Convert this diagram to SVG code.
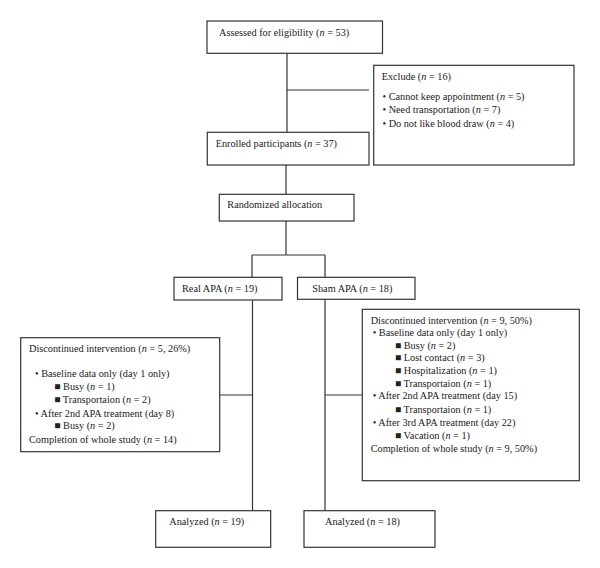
<svg xmlns="http://www.w3.org/2000/svg" width="600" height="568" viewBox="0 0 600 568">
<style>
.box{fill:#fff;stroke:#333;stroke-width:1.2}
.ln{fill:none;stroke:#333;stroke-width:1.2}
text{font-family:"Liberation Serif","Times New Roman",serif;font-size:10.25px;fill:#222}
.i{font-style:italic}
</style>
<rect width="600" height="568" fill="#fff"/>
<g id="connectors">
<path class="ln" d="M287 53V132.5M287 90H369M286 165V194.5M286 221V255M252 255H325M252 255V277.5M325 255V277.5M252.5 300V510.5M325 299.5V510.5M220 395H252.5M325 395H362"/>
</g>
<g id="assessed">
<rect class="box" x="207" y="21" width="175.5" height="32.3"/>
<text x="219" y="36">Assessed for eligibility (<tspan class="i">n</tspan> = 53)</text>
</g>
<g id="exclude">
<rect class="box" x="373.7" y="65.3" width="200.3" height="99.7"/>
<text x="381.7" y="80">Exclude (<tspan class="i">n</tspan> = 16)</text>
<text x="382.5" y="100">• Cannot keep appointment (<tspan class="i">n</tspan> = 5)</text>
<text x="382.5" y="112.5">• Need transportation (<tspan class="i">n</tspan> = 7)</text>
<text x="382.5" y="126.7">• Do not like blood draw (<tspan class="i">n</tspan> = 4)</text>
</g>
<g id="enrolled">
<rect class="box" x="207.3" y="132.3" width="161.7" height="32.7"/>
<text x="215.7" y="146.7">Enrolled participants (<tspan class="i">n</tspan> = 37)</text>
</g>
<g id="randomized">
<rect class="box" x="219.3" y="194.3" width="134.7" height="26.7"/>
<text x="227.3" y="207.7">Randomized allocation</text>
</g>
<g id="real">
<rect class="box" x="174" y="277.3" width="108" height="22.7"/>
<text x="182" y="291.7">Real APA (<tspan class="i">n</tspan> = 19)</text>
</g>
<g id="sham">
<rect class="box" x="297.5" y="277.3" width="117.5" height="22"/>
<text x="312.3" y="291.7">Sham APA (<tspan class="i">n</tspan> = 18)</text>
</g>
<g id="disc-real">
<rect class="box" x="20.7" y="337.7" width="199" height="114"/>
<text x="29" y="352">Discontinued intervention (<tspan class="i">n</tspan> = 5, 26%)</text>
<text x="35" y="376.7">• Baseline data only (day 1 only)</text>
<text x="54.3" y="390">■ Busy (<tspan class="i">n</tspan> = 1)</text>
<text x="54.3" y="403.3">■ Transportaion (<tspan class="i">n</tspan> = 2)</text>
<text x="35" y="416.7">• After 2nd APA treatment (day 8)</text>
<text x="54.3" y="429.3">■ Busy (<tspan class="i">n</tspan> = 2)</text>
<text x="29" y="443.3">Completion of whole study (<tspan class="i">n</tspan> = 14)</text>
</g>
<g id="disc-sham">
<rect class="box" x="362.3" y="309.3" width="217" height="171.4"/>
<text x="370.7" y="324">Discontinued intervention (<tspan class="i">n</tspan> = 9, 50%)</text>
<text x="372.7" y="336">• Baseline data only (day 1 only)</text>
<text x="395" y="348.7">■ Busy (<tspan class="i">n</tspan> = 2)</text>
<text x="395" y="360.7">■ Lost contact (<tspan class="i">n</tspan> = 3)</text>
<text x="395" y="374">■ Hospitalization (<tspan class="i">n</tspan> = 1)</text>
<text x="395" y="386.7">■ Transportaion (<tspan class="i">n</tspan> = 1)</text>
<text x="372.7" y="399.3">• After 2nd APA treatment (day 15)</text>
<text x="395" y="412.7">■ Transportaion (<tspan class="i">n</tspan> = 1)</text>
<text x="372.7" y="425.7">• After 3rd APA treatment (day 22)</text>
<text x="395" y="438.7">■ Vacation (<tspan class="i">n</tspan> = 1)</text>
<text x="370.7" y="452">Completion of whole study (<tspan class="i">n</tspan> = 9, 50%)</text>
</g>
<g id="analyzed-real">
<rect class="box" x="155.7" y="510.7" width="115" height="36.6"/>
<text x="169.3" y="525">Analyzed (<tspan class="i">n</tspan> = 19)</text>
</g>
<g id="analyzed-sham">
<rect class="box" x="304" y="510.7" width="131" height="36.6"/>
<text x="325" y="525">Analyzed (<tspan class="i">n</tspan> = 18)</text>
</g>
</svg>
